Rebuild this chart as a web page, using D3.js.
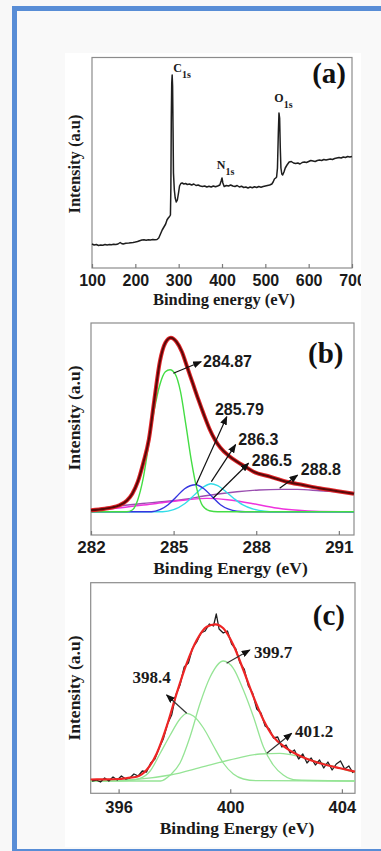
<!DOCTYPE html>
<html>
<head>
<meta charset="utf-8">
<script src="https://d3js.org/d3.v7.min.js"></script>
<style>
  body { margin: 0; background: #f8f8f8; overflow: hidden; }
  svg { display: block; }
</style>
</head>
<body>
<div id="figure"></div>
<script>
// XPS spectra: survey (a), C 1s (b), N 1s (c)

// ---- (a) survey scan ----
var surveyEnergy = [100,105,110,115,120,125,130,135,140,145,150,155,160,165,168,172,178,185,190,195,
  200,205,210,215,220,225,230,235,240,245,250,254,258,262,266,270,273,276,279,281,
  282,283,284,285,286,287,288,290,292,294.5,297,300,302,305,308,312,316,320,325,330,
  335,340,345,350,355,360,365,370,375,380,385,390,395,398,400,402,405,410,415,420,
  425,430,435,440,445,450,455,460,465,470,475,480,485,490,495,500,505,510,515,518,
  521,524,526,528,530,531.5,533,534.5,536,538,540,543,546,550,555,560,565,570,575,580,
  585,590,595,600,605,610,615,620,625,630,635,640,645,650,655,660,665,670,675,680,
  685,690,695,700];
var surveyIntensity = [24,23,23.5,22.5,23,22.8,23.5,23,23.4,23.2,23.8,23.5,24,25.5,24.5,24,24.8,25,25.3,25.6,
  26,26.5,27.3,28,28.2,27.8,28.3,28,28.4,28.2,28.5,30,34,38,41,44,48,50,51.5,53,
  80,150,185,193,182,140,95,78,70,66,68,76,82,84.5,85,84,84.5,83.5,84,83,
  84,82.5,83,82,81.5,82,81,81.8,81,82,81.2,82,83,87,90,85,81.5,82.5,82,83,
  82,81.5,82.5,81,81.8,80.5,81,80,81,80.3,81.2,80.5,81.5,80.8,81.5,82,82.5,83,84,86,
  89,90,91,100,135,155,150,120,100,94,93,96,100,103,106,106.5,105,104.5,105,104,
  105.5,106,105.5,106.5,107.5,107,106.5,107.5,108,107.5,108.5,108,108.5,109,108.5,109.5,110,110.5,110,111,
  110.5,111.5,111,111.5];
var surveyTicks = [100, 200, 300, 400, 500, 600, 700];
var surveyPeakNames = ["C", "N", "O"];
var surveyPeakEnergy = [287.6, 387.8, 520.7];
var surveyPeakLevel = [196.3, 99.5, 166.3];

// ---- (b) C 1s ----
var c1sEnergy = [282.0,282.5,283.0,283.3,283.5,283.7,283.9,284.1,284.3,284.5,284.7,284.9,285.1,285.3,285.5,
  285.7,285.9,286.1,286.3,286.5,286.7,287.0,287.3,287.6,287.9,288.5,289.1,289.7,290.3,290.9,291.55];
var c1sEnvelope = [1.5,3,6,11,18,30,49,72,112,150,169,174,170,160,144,
  128,112,97,83,72,64,56,50,45,40,35,30,26.7,23.4,20.7,18];
var c1sGreenEnergy = [282,283.3,283.5,283.7,283.9,284.1,284.3,284.5,284.7,284.87,285.05,285.25,285.45,285.65,285.85,286.05,286.3,286.6,291.55];
var c1sGreen = [0,0,1.7,12,34,68,102,127,140,142,138,120,86,50,22,6,1,0,0];
var c1sBlueEnergy = [282,284.2,284.5,284.8,285.1,285.4,285.8,286.1,286.4,286.7,287.0,287.3,287.6,291.55];
var c1sBlue = [0,0,2,7,15,23,27,23,15,7,2.5,0.5,0,0];
var c1sCyanEnergy = [282,284.6,285.0,285.4,285.8,286.1,286.35,286.6,286.9,287.2,287.5,287.9,288.3,288.7,291.55];
var c1sCyan = [0,0,2,8,18,25,28,26,20,13,7,2.5,0.5,0,0];
var c1sMagentaEnergy = [282,283.1,284.3,285.5,286.2,286.95,287.9,288.65,289.4,290.3,291.55];
var c1sMagenta = [1,4,8,12,13.3,12,8,4,1.7,0.3,0];
var c1sPurpleEnergy = [282,283.1,284.3,285.5,286.1,287.3,288.1,288.9,289.5,290.3,291.0,291.55];
var c1sPurple = [2,6,9.3,12.7,15.7,20,21.7,22.3,22.3,21,19.7,18.3];
var c1sTicks = [282, 285, 288, 291];
var c1sLabels = ["284.87", "285.79", "286.3", "286.5", "288.8"];

// ---- (c) N 1s ----
var n1sEnergy = [395.05,395.2,395.35,395.5,395.65,395.8,395.95,396.1,396.25,396.4,396.55,396.7,396.85,397.0,397.15,
  397.3,397.45,397.6,397.75,397.9,398.05,398.2,398.35,398.5,398.65,398.8,398.95,399.1,399.25,399.4,
  399.5,399.6,399.75,399.9,400.05,400.2,400.35,400.5,400.65,400.8,400.95,401.1,401.25,401.4,401.55,
  401.7,401.85,402.0,402.15,402.3,402.45,402.6,402.75,402.9,403.05,403.2,403.35,403.5,403.65,403.8,
  403.95,404.1,404.25,404.4];
var n1sCounts = [0,1,-1,3,0,4,1,5,2,3,7,5,10,9,18,
  22,33,42,57,66,86,96,114,118,133,139,148,150,157,155,
  167,152,148,150,137,132,118,112,95,88,72,68,55,52,43,
  44,34,36,28,31,22,27,18,23,16,21,13,19,11,17,
  20,12,15,8];
var n1sFitEnergy = [395.0,395.5,396.0,396.3,396.65,397.0,397.37,397.72,398.08,398.44,398.8,399.16,
  399.46,399.75,400.11,400.47,400.83,401.19,401.54,402.02,402.5,403.22,403.94,404.47];
var n1sFit = [1.5,1.6,2,3,4.3,11,27.7,54.3,87.7,117.7,141,154.3,
  156.7,152.7,136,111,84.3,61,44.3,32.7,25,17.7,12.7,9.3];
var n1sPeak1Energy = [395,396.3,396.77,397.13,397.49,397.85,398.2,398.44,398.68,399.04,399.4,399.75,400.11,400.47,400.95,404.47];
var n1sPeak1 = [0,0.5,2.7,10,27.7,46,62,67.7,65,53,35,18,7,2,0.3,0];
var n1sPeak2Energy = [395,397.5,397.85,398.2,398.56,398.92,399.28,399.75,400.11,400.47,400.83,401.19,401.54,401.9,402.38,404.47];
var n1sPeak2 = [0,0,6,18,44.3,77.7,104,120,112.7,91,64.3,34,16,6,1,0];
var n1sPeak3Energy = [395.06,396.65,397.85,399.04,400.23,401.07,401.78,402.5,403.22,403.94,404.47];
var n1sPeak3 = [0,1.7,6,14.3,22.7,27,27.7,24.3,18.3,12.7,8.3];
var n1sTicks = [396, 400, 404];
var n1sLabels = ["398.4", "399.7", "401.2"];


// ****************
// *   PRE-WORK   *
// ****************

var svgWidth = 381;
var svgHeight = 851;
var serif = "'Liberation Serif', 'Times New Roman', serif";
var sans = "'Liberation Sans', Arial, sans-serif";

var svg = d3.select("#figure")
    .append("svg")
    .attr("width", svgWidth)
    .attr("height", svgHeight);

// blue page frame
svg.append("rect")
    .attr("x", 14.5).attr("y", 8.5)
    .attr("width", 420).attr("height", 843)
    .attr("fill", "#f9f9f9")
    .attr("stroke", "#588dd6")
    .attr("stroke-width", 5);

var defs = svg.append("defs");
defs.append("clipPath").attr("id", "figClip")
    .append("rect")
    .attr("x", 65).attr("y", 53).attr("width", 296).attr("height", 794);

defs.append("marker")
    .attr("id", "head")
    .attr("markerUnits", "userSpaceOnUse")
    .attr("markerWidth", 9).attr("markerHeight", 7)
    .attr("refX", 8).attr("refY", 3.5)
    .attr("orient", "auto")
    .append("path")
    .attr("d", "M0,0 L9,3.5 L0,7 Z")
    .attr("fill", "#111");

var fig = svg.append("g").attr("clip-path", "url(#figClip)");
fig.append("rect")
    .attr("x", 65).attr("y", 53).attr("width", 296).attr("height", 794)
    .attr("fill", "#ffffff");


// builds box, bottom axis, titles; hands back the scales
function makePanel(p) {
    var x = d3.scaleLinear().domain(p.xDomain).range([p.left, p.right]);
    var y = d3.scaleLinear().domain(p.yDomain).range([p.bottom, p.top]);
    var g = fig.append("g");

    g.append("rect")
        .attr("x", p.left).attr("y", p.top)
        .attr("width", p.right - p.left).attr("height", p.bottom - p.top)
        .attr("fill", "none").attr("stroke", "#8c8c8c").attr("stroke-width", 1.2);

    var bottomAxis = d3.axisBottom(x)
        .tickValues(p.ticks)
        .tickSizeInner(-4)
        .tickSizeOuter(0)
        .tickPadding(p.tickPad)
        .tickFormat(d3.format("d"));

    var ax = g.append("g")
        .attr("transform", `translate(0, ${p.bottom})`)
        .call(bottomAxis);
    ax.select(".domain").remove();
    ax.selectAll(".tick line").attr("stroke", "#7a7a7a").attr("stroke-width", 1.2);
    ax.selectAll(".tick text")
        .attr("fill", "#1a1a1a")
        .style("font-family", sans)
        .style("font-weight", "bold")
        .style("font-size", p.tickSize + "px");

    g.append("text")
        .attr("x", p.xLabelX).attr("y", p.xLabelY)
        .attr("text-anchor", "middle")
        .style("font-family", serif).style("font-weight", "bold")
        .style("font-size", p.labelSize + "px")
        .attr("fill", "#1a1a1a")
        .text(p.xLabel);

    g.append("text")
        .attr("transform", `translate(80, ${p.yLabelY}) rotate(-90)`)
        .attr("text-anchor", "middle")
        .style("font-family", serif).style("font-weight", "bold")
        .style("font-size", p.labelSize + "px")
        .attr("fill", "#1a1a1a")
        .text("Intensity (a.u)");

    g.append("text")
        .attr("x", p.tagX).attr("y", p.tagY)
        .attr("text-anchor", "end")
        .style("font-family", serif).style("font-weight", "bold")
        .style("font-size", "29px")
        .attr("fill", "#111")
        .text(p.tag);

    return { g: g, x: x, y: y };
}

function drawLine(panel, xs, ys, color, width, curve) {
    var line = d3.line()
        .x((d, i) => panel.x(xs[i]))
        .y(d => panel.y(d))
        .curve(curve || d3.curveLinear);
    panel.g.append("path")
        .datum(ys)
        .attr("d", line)
        .attr("fill", "none")
        .attr("stroke", color)
        .attr("stroke-width", width)
        .attr("stroke-linejoin", "round");
}

function drawArrow(panel, from, to, color) {
    panel.g.append("line")
        .attr("x1", panel.x(from[0])).attr("y1", panel.y(from[1]))
        .attr("x2", panel.x(to[0])).attr("y2", panel.y(to[1]))
        .attr("stroke", color).attr("stroke-width", 1.2)
        .attr("marker-end", "url(#head)");
}


// ******************
// * READY TO DRAW! *
// ******************

// ---- panel (a) ----
var pa = makePanel({
    left: 92, right: 352, top: 57.5, bottom: 268,
    xDomain: [100, 700], yDomain: [0, 210.5],
    ticks: surveyTicks, tickSize: 16, tickPad: 6.5,
    xLabel: "Binding energy (eV)", xLabelX: 224, xLabelY: 304.5,
    labelSize: 16.5, yLabelY: 164,
    tag: "(a)", tagX: 346, tagY: 83
});
drawLine(pa, surveyEnergy, surveyIntensity, "#1e1e1e", 1.5);

surveyPeakNames.forEach(function(name, i) {
    var t = pa.g.append("text")
        .attr("x", pa.x(surveyPeakEnergy[i]))
        .attr("y", pa.y(surveyPeakLevel[i]))
        .style("font-family", serif).style("font-weight", "bold")
        .style("font-size", "12px")
        .attr("fill", "#1a1a1a");
    t.append("tspan").text(name);
    t.append("tspan").attr("dy", 6.5).style("font-size", "10px").text("1s");
});

// ---- panel (b) ----
var pb = makePanel({
    left: 91, right: 354, top: 323, bottom: 535,
    xDomain: [282, 291.55], yDomain: [-23.3, 188.7],
    ticks: c1sTicks, tickSize: 17, tickPad: 6,
    xLabel: "Binding Energy (eV)", xLabelX: 230.5, xLabelY: 574,
    labelSize: 17.5, yLabelY: 418,
    tag: "(b)", tagX: 343.5, tagY: 363
});
var smooth = d3.curveMonotoneX;
drawLine(pb, c1sPurpleEnergy, c1sPurple, "#9a4fb0", 1.4, smooth);
drawLine(pb, c1sMagentaEnergy, c1sMagenta, "#ee33dd", 1.4, smooth);
drawLine(pb, c1sCyanEnergy, c1sCyan, "#33dde8", 1.4, smooth);
drawLine(pb, c1sBlueEnergy, c1sBlue, "#3535e0", 1.4, smooth);
drawLine(pb, c1sGreenEnergy, c1sGreen, "#44dd44", 1.4, smooth);
drawLine(pb, c1sEnergy, c1sEnvelope, "#e3262a", 4, smooth);
drawLine(pb, c1sEnergy, c1sEnvelope, "#5a0808", 2, smooth);

// label anchors in data units
var c1sLabelAt = [[286.07, 145], [286.5, 96.7], [287.35, 66.7], [287.84, 46], [289.62, 36.5]];
var c1sArrowFrom = [[284.99, 138.4], [285.81, 26.7], [286.37, 30], [286.43, 13.4], [288.85, 23.4]];
var c1sArrowTo = [[286.0, 150], [286.93, 95], [287.25, 67], [287.72, 48.5], [289.5, 36.5]];
c1sLabels.forEach(function(lab, i) {
    drawArrow(pb, c1sArrowFrom[i], c1sArrowTo[i], "#111");
    pb.g.append("text")
        .attr("x", pb.x(c1sLabelAt[i][0])).attr("y", pb.y(c1sLabelAt[i][1]))
        .style("font-family", sans).style("font-weight", "bold")
        .style("font-size", "16px")
        .attr("fill", "#1a1a1a")
        .text(lab);
});

// ---- panel (c) ----
var pc = makePanel({
    left: 90.7, right: 355, top: 582.7, bottom: 793.3,
    xDomain: [395, 404.47], yDomain: [-12.3, 198.3],
    ticks: n1sTicks, tickSize: 16.5, tickPad: 8,
    xLabel: "Binding Energy (eV)", xLabelX: 237, xLabelY: 834,
    labelSize: 17.5, yLabelY: 688,
    tag: "(c)", tagX: 345, tagY: 624.5
});
drawLine(pc, n1sPeak1Energy, n1sPeak1, "#95e495", 1.3, smooth);
drawLine(pc, n1sPeak2Energy, n1sPeak2, "#95e495", 1.3, smooth);
drawLine(pc, n1sPeak3Energy, n1sPeak3, "#95e495", 1.3, smooth);
drawLine(pc, n1sEnergy, n1sCounts, "#1e1e1e", 1.3);
drawLine(pc, n1sFitEnergy, n1sFit, "#ee2525", 2.2, smooth);

var n1sLabelAt = [[396.5, 98], [400.85, 123], [402.32, 44]];
var n1sArrowFrom = [[398.44, 67.7], [399.87, 117.7], [401.31, 27.7]];
var n1sArrowTo = [[397.72, 86], [400.7, 131], [402.2, 47.7]];
n1sLabels.forEach(function(lab, i) {
    drawArrow(pc, n1sArrowFrom[i], n1sArrowTo[i], "#333");
    pc.g.append("text")
        .attr("x", pc.x(n1sLabelAt[i][0])).attr("y", pc.y(n1sLabelAt[i][1]))
        .style("font-family", serif).style("font-weight", "bold")
        .style("font-size", "17px")
        .attr("fill", "#1a1a1a")
        .text(lab);
});
</script>
</body>
</html>
